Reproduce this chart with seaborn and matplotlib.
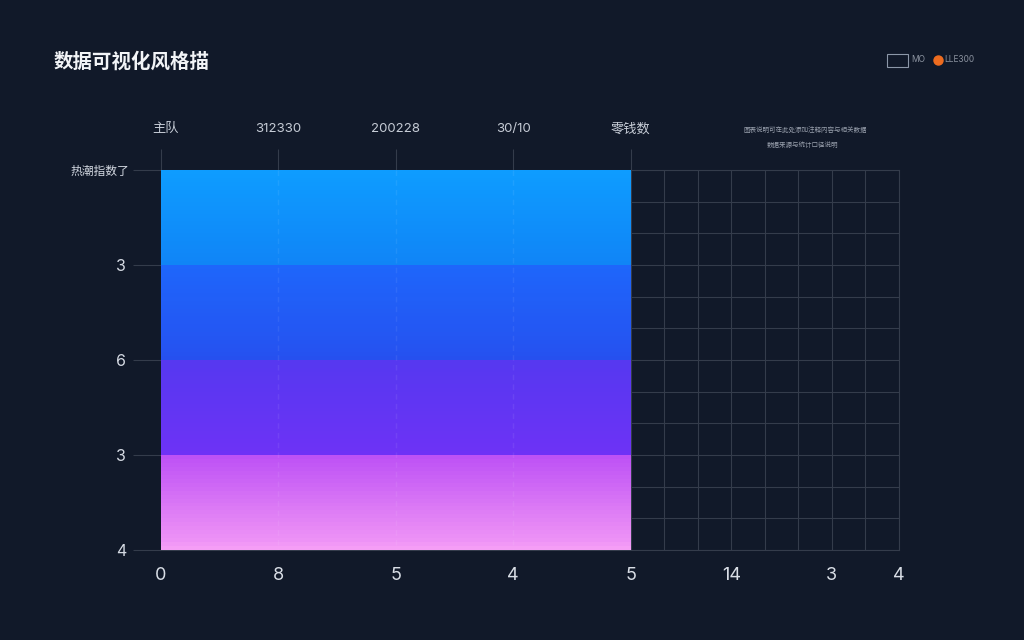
import numpy as np
import pandas as pd
import matplotlib.pyplot as plt
from matplotlib.colors import LinearSegmentedColormap
from matplotlib.lines import Line2D
from matplotlib.patches import Rectangle
from matplotlib.transforms import ScaledTranslation
import seaborn as sns

title = '数据可视化风格描'
top_labels = ['主队', '312330', '200228', '30/10', '零钱数']
bottom_labels = ['0', '8', '5', '4', '5', '14', '3', '4']
left_labels = ['热潮指数了', '3', '6', '3', '4']
note_lines = ['图表说明可在此处添加注释内容与相关数据', '数据来源与统计口径说明']
legend_labels = ['MO', 'LLE300']

# shade of each row, one list per band, top to bottom
band_1 = [0.00, 0.01, 0.02, 0.03, 0.04, 0.05, 0.06, 0.07, 0.08, 0.09, 0.10, 0.11,
          0.12, 0.13, 0.14, 0.15, 0.16, 0.17, 0.18, 0.19, 0.20, 0.21, 0.22, 0.24]
band_2 = [0.25, 0.26, 0.27, 0.28, 0.29, 0.30, 0.31, 0.32, 0.33, 0.34, 0.35, 0.36,
          0.37, 0.38, 0.39, 0.40, 0.41, 0.42, 0.43, 0.44, 0.45, 0.46, 0.47, 0.49]
band_3 = [0.50, 0.51, 0.52, 0.53, 0.54, 0.55, 0.56, 0.57, 0.58, 0.59, 0.60, 0.61,
          0.62, 0.63, 0.64, 0.65, 0.66, 0.67, 0.68, 0.69, 0.70, 0.71, 0.72, 0.74]
band_4 = [0.75, 0.76, 0.77, 0.78, 0.79, 0.80, 0.81, 0.82, 0.83, 0.84, 0.85, 0.86,
          0.87, 0.88, 0.89, 0.90, 0.91, 0.92, 0.93, 0.94, 0.95, 0.96, 0.98, 1.00]

filled_cols = 14
empty_cols = 8

BG = '#111929'
GRID = '#343c4b'

sns.set_theme(style='dark')
plt.rcParams['font.family'] = ['Inter', 'Noto Sans CJK SC', 'DejaVu Sans']

shades = band_1 + band_2 + band_3 + band_4
rows = [[s] * filled_cols + [np.nan] * empty_cols for s in shades]
df = pd.DataFrame(rows)

cmap = LinearSegmentedColormap.from_list('bands', [
    (0.00, '#0e9cff'), (0.245, '#1084f6'),
    (0.245, '#1e66fb'), (0.495, '#2650ef'),
    (0.495, '#5638f0'), (0.745, '#6e32f6'),
    (0.745, '#bc50f5'), (0.88, '#dc7af5'), (1.00, '#f59ef6'),
], N=1024)

fig = plt.figure(figsize=(10.24, 6.4), dpi=100, facecolor=BG)
ax = fig.add_axes([161 / 1024, 1 - 550 / 640, 738 / 1024, 380 / 640], facecolor=BG)

sns.heatmap(df, ax=ax, cmap=cmap, vmin=0, vmax=1, cbar=False,
            xticklabels=False, yticklabels=False, linewidths=0)

# grid shows only in the empty part on the right
ax.set_xticks(np.arange(0, filled_cols + empty_cols + 1), minor=True)
ax.set_yticks(np.arange(0, len(shades) + 1, 8), minor=True)
ax.set_axisbelow(True)
ax.tick_params(which='minor', length=0)

for side in ['top', 'right', 'bottom']:
    ax.spines[side].set_visible(True)
    ax.spines[side].set_color(GRID)
    ax.spines[side].set_linewidth(0.8)
    ax.spines[side].set_zorder(0.6)
ax.spines['left'].set_visible(False)

# bottom axis
ax.set_xticks([0, 3.5, 7, 10.5, 14, 17, 20, 22])
ax.set_xticklabels(bottom_labels, fontsize=13, color='#d9dee6')
ax.tick_params(axis='x', which='major', length=0, pad=12, bottom=True)

# left axis
ax.set_yticks([0, 24, 48, 72, 96])
ax.set_yticklabels(left_labels, fontsize=8.5, color='#d4d9e2', rotation=0)
ax.tick_params(axis='y', which='major', length=20, width=0.8, color=GRID, pad=3, left=True)
left = ax.get_yticklabels()
for lab in left[1:]:
    lab.set_fontsize(11.5)
    lab.set_transform(lab.get_transform() + ScaledTranslation(-2 / 72, 0, fig.dpi_scale_trans))

# both tick levels carry grid lines, the heatmap covers them on the left
ax.grid(which='both', color=GRID, linewidth=0.8)

# top axis
top = ax.secondary_xaxis('top')
top.set_xticks([0, 3.5, 7, 10.5, 14])
top.set_xticklabels(top_labels, fontsize=9.5, color='#c6ccd6')
top.tick_params(axis='x', length=15, width=0.8, color=GRID, pad=10)
top.spines['top'].set_visible(False)
first = top.get_xticklabels()[0]
first.set_transform(first.get_transform() + ScaledTranslation(3.6 / 72, 0, fig.dpi_scale_trans))

# faint dashes through the filled area
ax.vlines([3.5, 7, 10.5], 0, len(shades), color='white', alpha=0.07, linewidth=1,
          linestyles=(0, (4, 3)))

fig.text(54 / 1024, 1 - 62 / 640, title, fontsize=14, fontweight='bold',
         color='#f2f4f7', ha='left', va='center')

fig.text(805 / 1024, 1 - 129 / 640, note_lines[0], fontsize=4.7, color='#9aa1ae',
         ha='center', va='center')
fig.text(802 / 1024, 1 - 145 / 640, note_lines[1], fontsize=4.7, color='#9aa1ae',
         ha='center', va='center')

# small legend, top right
to_fig = fig.transFigure
fig.patches.append(Rectangle((887 / 1024, 1 - 67 / 640), 21 / 1024, 13 / 640, transform=to_fig,
                             fill=False, edgecolor='#8c97a8', linewidth=0.8))
fig.text(911 / 1024, 1 - 60 / 640, legend_labels[0], fontsize=6, color='#8c93a0',
         ha='left', va='center')
fig.add_artist(Line2D([938 / 1024], [1 - 60 / 640], marker='o', markersize=6.5, color='#ee6c1f',
                      linestyle='none', transform=to_fig))
fig.text(944 / 1024, 1 - 60 / 640, legend_labels[1], fontsize=6, color='#8c93a0',
         ha='left', va='center')

fig.savefig('out.png', dpi=100, facecolor=BG)
